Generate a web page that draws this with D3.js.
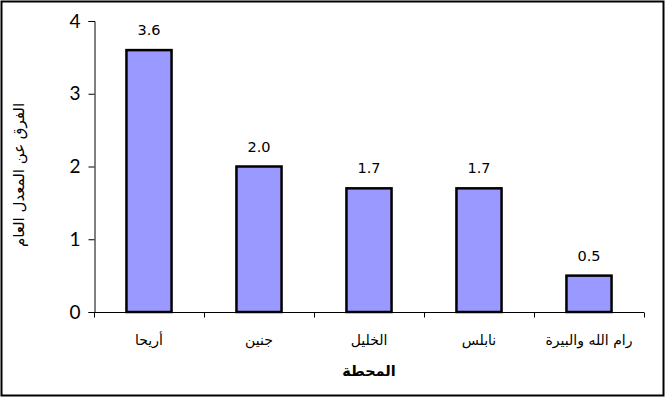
<!DOCTYPE html>
<html><head><meta charset="utf-8">
<script src="https://cdn.jsdelivr.net/npm/d3@7"></script>
<style>body{margin:0;background:#fff}svg{display:block}</style>
</head><body>
<svg id="c" width="666" height="398"></svg>
<script>
const categories = ["أريحا","جنين","الخليل","نابلس","رام الله والبيرة"];
const values = [3.6, 2.0, 1.7, 1.7, 0.5];
const yTicks = [0,1,2,3,4];
const xTitle = "المحطة";
const yTitle = "الفرق عن المعدل العام";

const svg = d3.select("#c");
svg.append("rect").attr("x",1.5).attr("y",1.5).attr("width",662).attr("height",394)
  .attr("fill","#fff").attr("stroke","#000").attr("stroke-width",2);

const x = d3.scaleBand().domain(categories).range([94,644]).paddingInner(0.59).paddingOuter(0.295);
const xb = d3.scaleBand().domain(categories).range([94,644]);
const y = d3.scaleLinear().domain([0,4]).range([312,21]);

// y axis
const ya = svg.append("g").attr("transform","translate(94.5,0)")
  .call(d3.axisLeft(y).tickValues(yTicks).tickFormat(d3.format("d")).tickSizeOuter(0).tickSize(6).tickPadding(8));
ya.select(".domain").attr("stroke","#000");
ya.selectAll("text").attr("font-family","Lato, 'Open Sans', sans-serif").attr("font-size",19).attr("fill","#000");

// bars
svg.selectAll("rect.bar").data(values).join("rect").attr("class","bar")
  .attr("x",(d,i)=>x(categories[i])).attr("width",x.bandwidth())
  .attr("y",d=>y(d)).attr("height",d=>y(0)-y(d))
  .attr("fill","#9999FF").attr("stroke","#000").attr("stroke-width",2.5);

// x axis
const xa = svg.append("g").attr("transform","translate(0,312.5)");
xa.append("line").attr("x1",94).attr("x2",644).attr("stroke","#000");
xa.selectAll("line.t").data(categories.concat([null])).join("line").attr("class","t")
  .attr("x1",(d,i)=>Math.round(94+i*xb.step())+0.5).attr("x2",(d,i)=>Math.round(94+i*xb.step())+0.5)
  .attr("y1",0).attr("y2",5).attr("stroke","#000");
xa.selectAll("text").data(categories).join("text")
  .attr("x",d=>xb(d)+xb.bandwidth()/2).attr("y",32)
  .attr("text-anchor","middle").attr("font-family","'DejaVu Sans', sans-serif").attr("font-size",14).attr("fill","#000")
  .text(d=>d);

// value labels
svg.selectAll("text.v").data(values).join("text").attr("class","v")
  .attr("x",(d,i)=>x(categories[i])+x.bandwidth()/2).attr("y",d=>y(d)-15)
  .attr("text-anchor","middle").attr("font-family","'DejaVu Sans', Verdana, sans-serif").attr("font-size",14.5).attr("fill","#000")
  .text(d=>d.toFixed(1));

// titles
svg.append("text").attr("x",369).attr("y",376).attr("text-anchor","middle")
  .attr("font-family","'DejaVu Sans', sans-serif").attr("font-size",14.5).attr("font-weight","bold").text(xTitle);
svg.append("text").attr("transform","translate(24,175) rotate(-90)").attr("text-anchor","middle")
  .attr("font-family","'DejaVu Sans', sans-serif").attr("font-size",15).text(yTitle);
</script>
</body></html>
